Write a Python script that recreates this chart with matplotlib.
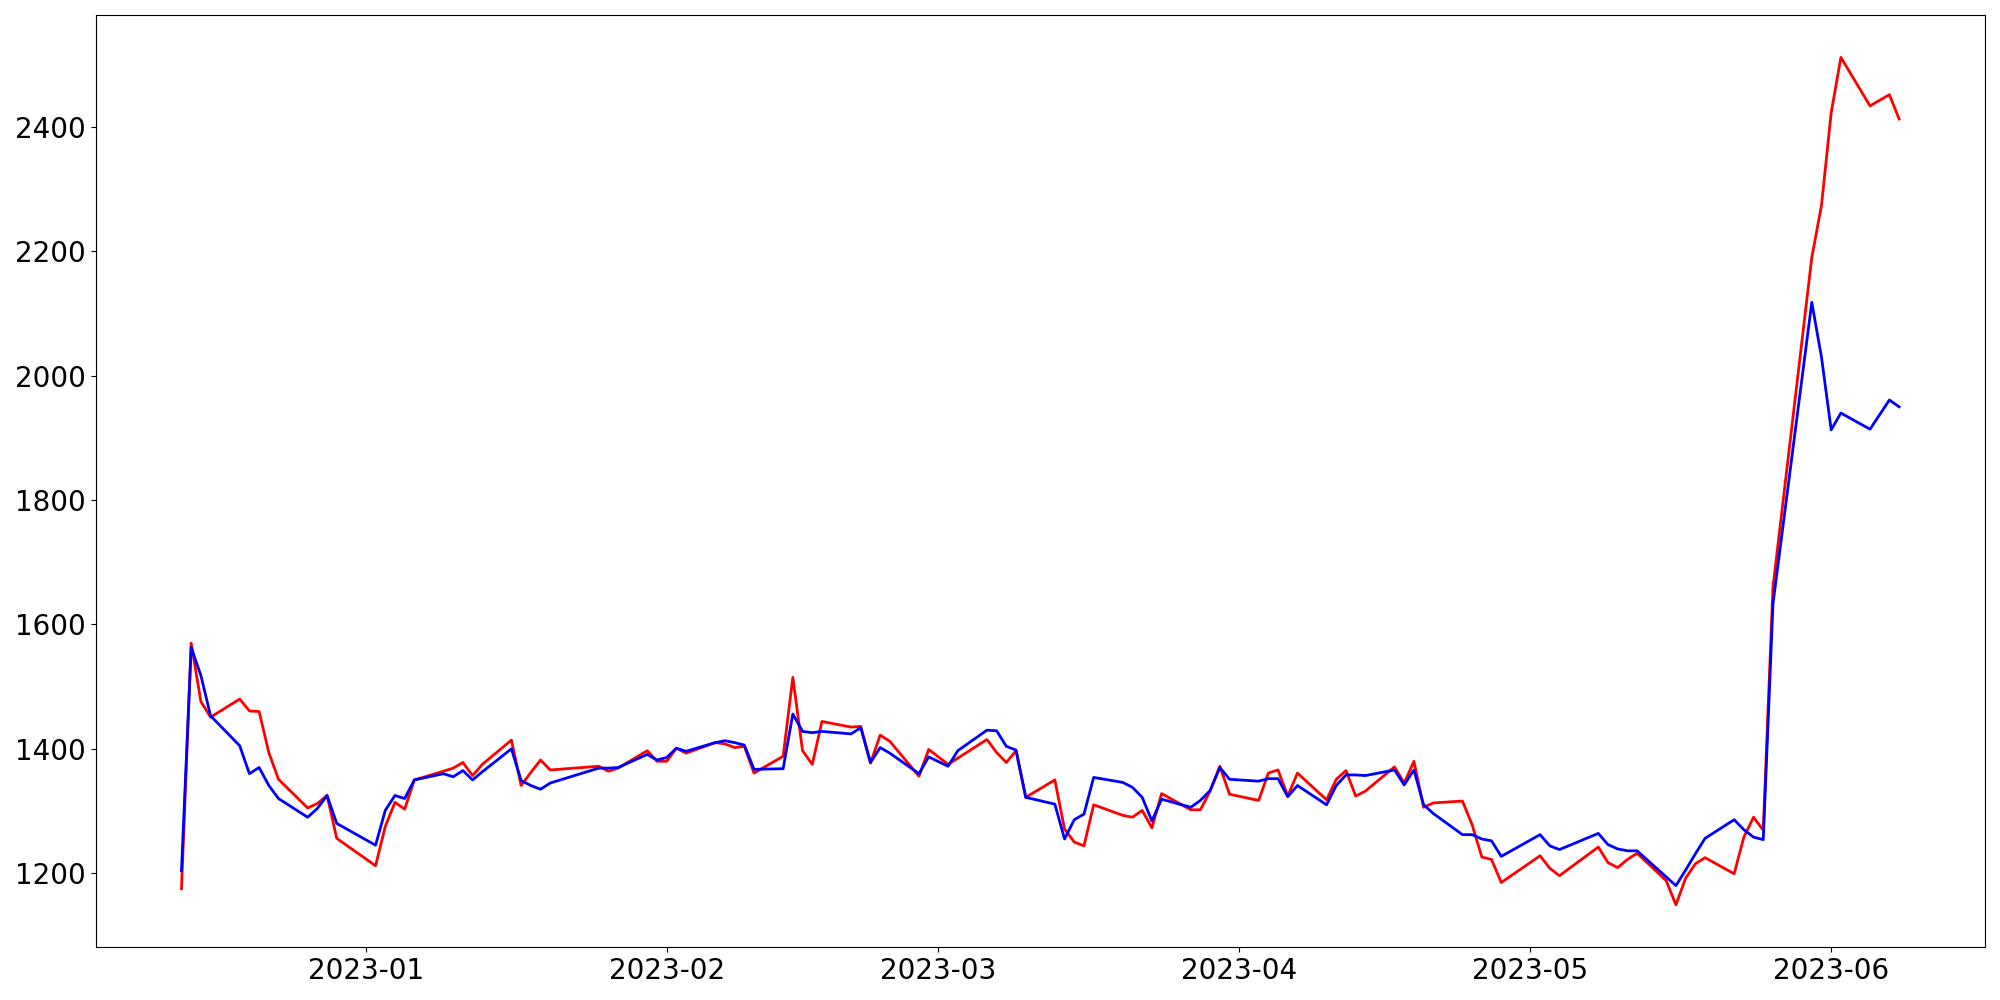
import matplotlib
matplotlib.use("Agg")
import matplotlib.pyplot as plt
import matplotlib.dates as mdates
import pandas as pd

dates = pd.to_datetime([
    "2022-12-13", "2022-12-14", "2022-12-15", "2022-12-16", "2022-12-19", "2022-12-20", "2022-12-21",
    "2022-12-22", "2022-12-23", "2022-12-26", "2022-12-27", "2022-12-28", "2022-12-29",
    "2023-01-02", "2023-01-03", "2023-01-04", "2023-01-05", "2023-01-06", "2023-01-09", "2023-01-10",
    "2023-01-11", "2023-01-12", "2023-01-13", "2023-01-16", "2023-01-17", "2023-01-18", "2023-01-19",
    "2023-01-20", "2023-01-25", "2023-01-26", "2023-01-27", "2023-01-30", "2023-01-31",
    "2023-02-01", "2023-02-02", "2023-02-03", "2023-02-06", "2023-02-07", "2023-02-08", "2023-02-09",
    "2023-02-10", "2023-02-13", "2023-02-14", "2023-02-15", "2023-02-16", "2023-02-17", "2023-02-20",
    "2023-02-21", "2023-02-22", "2023-02-23", "2023-02-24", "2023-02-27", "2023-02-28",
    "2023-03-02", "2023-03-03", "2023-03-06", "2023-03-07", "2023-03-08", "2023-03-09", "2023-03-10",
    "2023-03-13", "2023-03-14", "2023-03-15", "2023-03-16", "2023-03-17", "2023-03-20", "2023-03-21",
    "2023-03-22", "2023-03-23", "2023-03-24", "2023-03-27", "2023-03-28", "2023-03-29", "2023-03-30",
    "2023-03-31",
    "2023-04-03", "2023-04-04", "2023-04-05", "2023-04-06", "2023-04-07", "2023-04-10", "2023-04-11",
    "2023-04-12", "2023-04-13", "2023-04-14", "2023-04-17", "2023-04-18", "2023-04-19", "2023-04-20",
    "2023-04-21", "2023-04-24", "2023-04-25", "2023-04-26", "2023-04-27", "2023-04-28",
    "2023-05-02", "2023-05-03", "2023-05-04", "2023-05-08", "2023-05-09", "2023-05-10", "2023-05-11",
    "2023-05-12", "2023-05-15", "2023-05-16", "2023-05-17", "2023-05-18", "2023-05-19", "2023-05-22",
    "2023-05-23", "2023-05-24", "2023-05-25", "2023-05-26", "2023-05-30", "2023-05-31",
    "2023-06-01", "2023-06-02", "2023-06-05", "2023-06-07", "2023-06-08",
])

red_values = [
    1175, 1570, 1476, 1451, 1480, 1461, 1460, 1394, 1351, 1305, 1312, 1325, 1256,
    1212, 1275, 1314, 1303, 1350, 1364, 1369, 1378, 1357, 1375, 1414, 1341, 1362, 1382, 1366,
    1372, 1364, 1369, 1397, 1380,
    1380, 1401, 1393, 1410, 1408, 1402, 1404, 1361, 1388, 1515, 1397, 1375, 1444, 1435, 1436,
    1377, 1422, 1412, 1356, 1399,
    1375, 1385, 1415, 1394, 1378, 1397, 1322, 1350, 1271, 1250, 1244, 1310, 1293, 1290, 1301,
    1273, 1328, 1302, 1302, 1332, 1372, 1327,
    1317, 1361, 1366, 1324, 1361, 1318, 1351, 1365, 1324, 1332, 1371, 1345, 1380, 1306, 1313,
    1316, 1278, 1226, 1222, 1185,
    1228, 1208, 1196, 1242, 1217, 1209, 1222, 1232, 1188, 1149, 1192, 1215, 1225, 1199, 1258,
    1290, 1269, 1660, 2190, 2274,
    2423, 2512, 2434, 2452, 2413,
]

blue_values = [
    1204, 1563, 1518, 1453, 1405, 1360, 1370, 1341, 1320, 1290, 1304, 1325, 1280,
    1245, 1301, 1325, 1320, 1350, 1360, 1355, 1365, 1350, 1363, 1400, 1349, 1341, 1335, 1345,
    1369, 1369, 1370, 1391, 1382,
    1386, 1401, 1396, 1410, 1413, 1410, 1406, 1367, 1368, 1456, 1428, 1426, 1428, 1424, 1434,
    1378, 1402, 1393, 1360, 1387,
    1372, 1397, 1430, 1429, 1404, 1398, 1322, 1311, 1255, 1286, 1295, 1354, 1346, 1338, 1322,
    1284, 1319, 1306, 1317, 1333, 1370, 1351,
    1348, 1352, 1352, 1323, 1341, 1310, 1341, 1358, 1358, 1357, 1366, 1342, 1366, 1310, 1296,
    1262, 1262, 1255, 1252, 1227,
    1262, 1244, 1238, 1264, 1246, 1239, 1236, 1236, 1194, 1180, 1205, 1231, 1256, 1286, 1270,
    1258, 1254, 1633, 2118, 2030,
    1913, 1940, 1914, 1961, 1950,
]

fig, ax = plt.subplots(figsize=(20, 10), dpi=100)
ax.plot(dates, red_values, color="red", linewidth=2)
ax.plot(dates, blue_values, color="blue", linewidth=2)

ax.xaxis.set_major_locator(mdates.MonthLocator())
ax.xaxis.set_major_formatter(mdates.DateFormatter("%Y-%m"))
ax.tick_params(axis="both", labelsize=20)

fig.tight_layout()
fig.savefig("out.png", dpi=100)
